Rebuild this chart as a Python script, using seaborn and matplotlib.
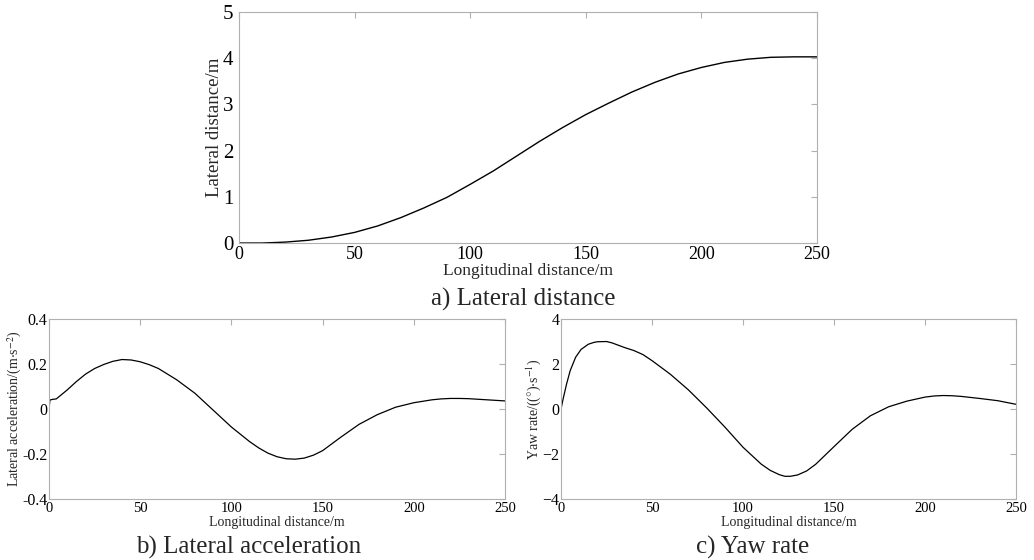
import matplotlib.pyplot as plt
import pandas as pd
import seaborn as sns

# a) lateral distance
x_dist = [0, 10, 20, 30, 40, 50, 60, 70, 80, 90, 100, 110, 120, 130, 140, 150, 160,
          170, 180, 190, 200, 210, 220, 230, 240, 250]
y_dist = [0, 0, 0.02, 0.06, 0.13, 0.23, 0.37, 0.55, 0.76, 0.99, 1.27, 1.56, 1.88, 2.2,
          2.5, 2.78, 3.03, 3.27, 3.48, 3.66, 3.8, 3.91, 3.98, 4.02, 4.03, 4.03]

# b) lateral acceleration
x_acc = [0, 0.5, 2, 4, 10, 15, 20, 25, 30, 35, 40, 45, 50, 55, 60, 70, 80, 90, 100,
         110, 115, 120, 125, 130, 135, 140, 145, 150, 160, 170, 180, 190, 200, 210,
         215, 220, 225, 230, 240, 250]
y_acc = [0, 0.04, 0.043, 0.045, 0.085, 0.122, 0.155, 0.18, 0.198, 0.212, 0.22, 0.218,
         0.21, 0.197, 0.18, 0.13, 0.07, -0.005, -0.08, -0.145, -0.173, -0.196, -0.212,
         -0.221, -0.223, -0.218, -0.205, -0.185, -0.125, -0.068, -0.025, 0.008, 0.028,
         0.041, 0.045, 0.047, 0.047, 0.046, 0.041, 0.036]

# c) yaw rate
x_yaw = [0, 1, 3, 5, 8, 11, 15, 18, 20, 25, 28, 30, 35, 40, 45, 50, 60, 70, 80, 90,
         100, 110, 115, 120, 123, 126, 130, 135, 140, 150, 160, 170, 180, 190, 200,
         205, 210, 215, 220, 230, 240, 250]
y_yaw = [0, 0.4, 1.1, 1.7, 2.3, 2.65, 2.88, 2.96, 2.99, 3.0, 2.94, 2.88, 2.73, 2.6,
         2.42, 2.15, 1.55, 0.85, 0.05, -0.8, -1.7, -2.45, -2.73, -2.92, -2.99, -2.99,
         -2.93, -2.75, -2.45, -1.67, -0.9, -0.3, 0.1, 0.35, 0.53, 0.58, 0.6, 0.59,
         0.56, 0.47, 0.37, 0.21]

sns.set_theme(style='white')
plt.rcParams['font.family'] = ['Liberation Serif', 'DejaVu Serif']
plt.rcParams['mathtext.fontset'] = 'stix'

fig = plt.figure(figsize=(10.34, 5.6), dpi=100)
ax_a = fig.add_axes([0.2311, 0.566, 0.559, 0.4125])
ax_b = fig.add_axes([0.0474, 0.1089, 0.441, 0.3214])
ax_c = fig.add_axes([0.5426, 0.1089, 0.440, 0.3214])


def style_axes(ax, xsize, ysize, ypad):
    for s in ax.spines.values():
        s.set_color('#b0b0b0')
        s.set_linewidth(0.8)
    ax.tick_params(direction='in', length=4, width=0.8, color='#b0b0b0',
                   top=True, right=True, labelcolor='black')
    ax.tick_params(axis='x', labelsize=xsize, pad=2)
    ax.tick_params(axis='y', labelsize=ysize, pad=ypad)
    ax.set_xlim(0, 250)
    ax.set_xticks([0, 50, 100, 150, 200, 250])


df_a = pd.DataFrame({'x': x_dist, 'y': y_dist})
sns.lineplot(data=df_a, x='x', y='y', ax=ax_a, color='black', linewidth=1)
style_axes(ax_a, 13, 15, 4)
ax_a.set_ylim(0, 5)
ax_a.set_yticks([0, 1, 2, 3, 4, 5])
ax_a.set_xlabel('Longitudinal distance/m', fontsize=12.5, labelpad=0)
ax_a.set_ylabel('Lateral distance/m', fontsize=13.5, labelpad=0)

df_b = pd.DataFrame({'x': x_acc, 'y': y_acc})
sns.lineplot(data=df_b, x='x', y='y', ax=ax_b, color='black', linewidth=0.9)
style_axes(ax_b, 10.5, 11.5, 1)
ax_b.set_ylim(-0.4, 0.4)
ax_b.set_yticks([-0.4, -0.2, 0, 0.2, 0.4])
ax_b.set_yticklabels(['-0.4', '-0.2', '0', '0.2', '0.4'])
ax_b.set_xlabel('Longitudinal distance/m', fontsize=10, labelpad=1)
ax_b.set_ylabel(r'Lateral acceleration/(m$\cdot$s$^{-2}$)', fontsize=10, labelpad=-1)

df_c = pd.DataFrame({'x': x_yaw, 'y': y_yaw})
sns.lineplot(data=df_c, x='x', y='y', ax=ax_c, color='black', linewidth=0.9)
style_axes(ax_c, 10.5, 11.5, 1)
ax_c.set_ylim(-4, 4)
ax_c.set_yticks([-4, -2, 0, 2, 4])
ax_c.set_xlabel('Longitudinal distance/m', fontsize=10, labelpad=1)
ax_c.set_ylabel(r'Yaw rate/(($\degree$)$\cdot$s$^{-1}$)', fontsize=10, labelpad=0)

fig.text(523 / 1034, 1 - 299 / 560, 'a) Lateral distance', fontsize=18,
         ha='center', va='center')
fig.text(249 / 1034, 1 - 547 / 560, 'b) Lateral acceleration', fontsize=18,
         ha='center', va='center')
fig.text(753 / 1034, 1 - 547 / 560, 'c) Yaw rate', fontsize=18,
         ha='center', va='center')

fig.savefig('out.png', dpi=100)
